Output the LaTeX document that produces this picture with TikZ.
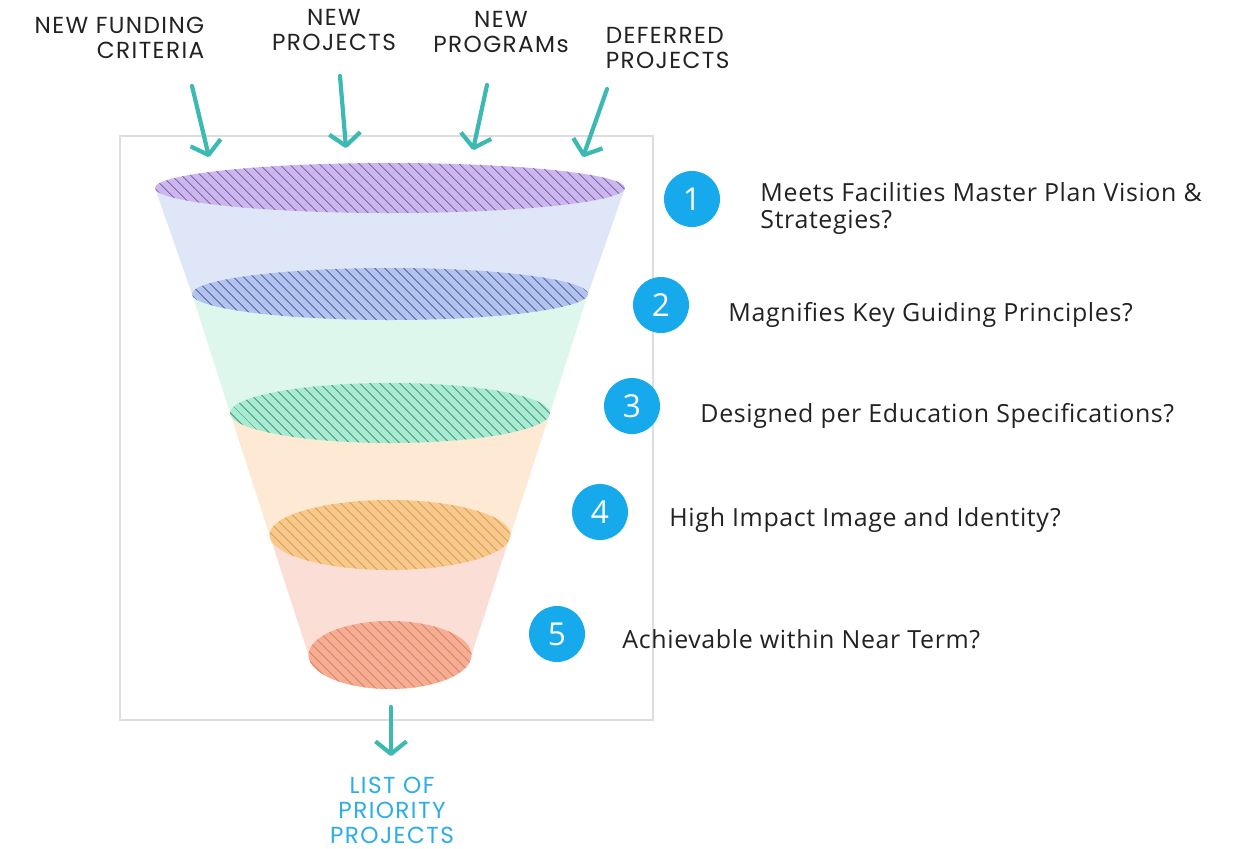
\documentclass[tikz,border=0pt]{standalone}
\usepackage{fontspec}
\setmainfont[LetterSpace=2.5]{Open Sans}
\newfontfamily\capsfont[LetterSpace=6]{Poppins}
\usetikzlibrary{arrows.meta,patterns.meta,positioning}
\definecolor{flecha}{HTML}{3CB9B3}
\definecolor{numero}{HTML}{16A9EC}
\definecolor{salida}{HTML}{2BADE6}
\definecolor{texto}{HTML}{222222}
\definecolor{marco}{HTML}{DDDDDD}
\definecolor{bandaA}{HTML}{DFE6F7}
\definecolor{bandaB}{HTML}{DDF7EC}
\definecolor{bandaC}{HTML}{FDE9D4}
\definecolor{bandaD}{HTML}{FBDFD6}
\definecolor{tapaA}{HTML}{CBB6F0}\definecolor{rayaA}{HTML}{5A4A7E}
\definecolor{tapaB}{HTML}{B3C3F0}\definecolor{rayaB}{HTML}{4A5A92}
\definecolor{tapaC}{HTML}{A8EAD2}\definecolor{rayaC}{HTML}{3E8C74}
\definecolor{tapaD}{HTML}{F8C98E}\definecolor{rayaD}{HTML}{DB9A3E}
\definecolor{tapaE}{HTML}{F5AE94}\definecolor{rayaE}{HTML}{DC7A5C}

\begin{document}
\begin{tikzpicture}[x=0.02cm,y=-0.02cm,line width=0.85pt,
  flujo/.style={flecha,line width=2.4pt,line cap=round,-{Straight Barb[length=2.5mm,width=6.2mm,line join=round]}},
  rotulo/.style={texto,inner sep=0pt,font=\capsfont\fontsize{13.2}{14.2}\selectfont},
  criterio/.style={texto,anchor=west,inner sep=0pt,align=left,font=\fontsize{14.2}{15.9}\selectfont},
  num/.style={circle,fill=numero,text=white,minimum size=1.12cm,inner sep=0pt,font=\fontsize{18}{18}\selectfont}]
  \useasboundingbox (0,0) rectangle (1238,849);
  % marco
  \draw[marco,line width=0.6pt] (120,136) rectangle (653,720);
  % embudo: bandas entre tapas
  \foreach \ya/\ra/\yb/\rb/\hb/\c in {188/235/294/198/26/bandaA,294/198/413/160/30/bandaB,413/160/535/120.5/35/bandaC,535/120.5/655/81.5/34/bandaD}
    \fill[\c] (390-\ra,\ya) -- (390-\rb,\yb) arc[start angle=180,end angle=360,x radius=\rb*0.02cm,y radius=\hb*0.02cm] -- (390+\ra,\ya) -- cycle;
  % tapas rayadas
  \foreach \y/\r/\h/\n in {188/235/25/A,294/198/26/B,413/160/30/C,535/120.5/35/D,655/81.5/34/E} {
    \fill[tapa\n] (390,\y) ellipse[x radius=\r*0.02cm,y radius=\h*0.02cm];
    \fill[pattern={Lines[angle=-45,distance=4pt,line width=0.45pt]},pattern color=raya\n] (390,\y) ellipse[x radius=\r*0.02cm,y radius=\h*0.02cm];
  }
  % entradas
  \node[rotulo,align=right,anchor=east] (fondos) at (205,38) {NEW FUNDING\\CRITERIA};
  \node[rotulo,align=center] (proyectos) at (334,30) {NEW\\PROJECTS};
  \node[rotulo,align=center] (programas) at (501,32) {NEW\\PROGRAMs};
  \node[rotulo,align=left,anchor=west] (diferidos) at (605,48) {DEFERRED\\PROJECTS};
  \coordinate (s1) at (192,86);  \coordinate (e1) at (209,157);
  \coordinate (s2) at (340,76);  \coordinate (e2) at (346,148);
  \coordinate (s3) at (487,85);  \coordinate (e3) at (473,150);
  \coordinate (s4) at (607,89);  \coordinate (e4) at (583,157);
  \coordinate (s5) at (391,707); \coordinate (e5) at (391,756);
  \foreach \i in {1,...,5} \draw[flujo] (s\i) -- (e\i);
  % criterios
  \node[num] (n1) at (692,199) {1};
  \node[num] (n2) at (661,305) {2};
  \node[num] (n3) at (632,406) {3};
  \node[num] (n4) at (600,512) {4};
  \node[num] (n5) at (557,634) {5};
  \node[criterio,right=0.78cm of n1,yshift=-0.19cm] (c1) {Meets Facilities Master Plan Vision \&\\Strategies?};
  \node[criterio,right=0.76cm of n2,yshift=-0.19cm] (c2) {Magnifies Key Guiding Principles?};
  \node[criterio,right=0.78cm of n3,yshift=-0.19cm] (c3) {Designed per Education Specifications?};
  \node[criterio,right=0.8cm of n4,yshift=-0.16cm] (c4) {High Impact Image and Identity?};
  \node[criterio,right=0.72cm of n5,yshift=-0.1cm] (c5) {Achievable within Near Term?};
  % salida
  \node[rotulo,salida,align=center] (lista) at (392,810) {LIST OF\\PRIORITY\\PROJECTS};
\end{tikzpicture}
\end{document}
